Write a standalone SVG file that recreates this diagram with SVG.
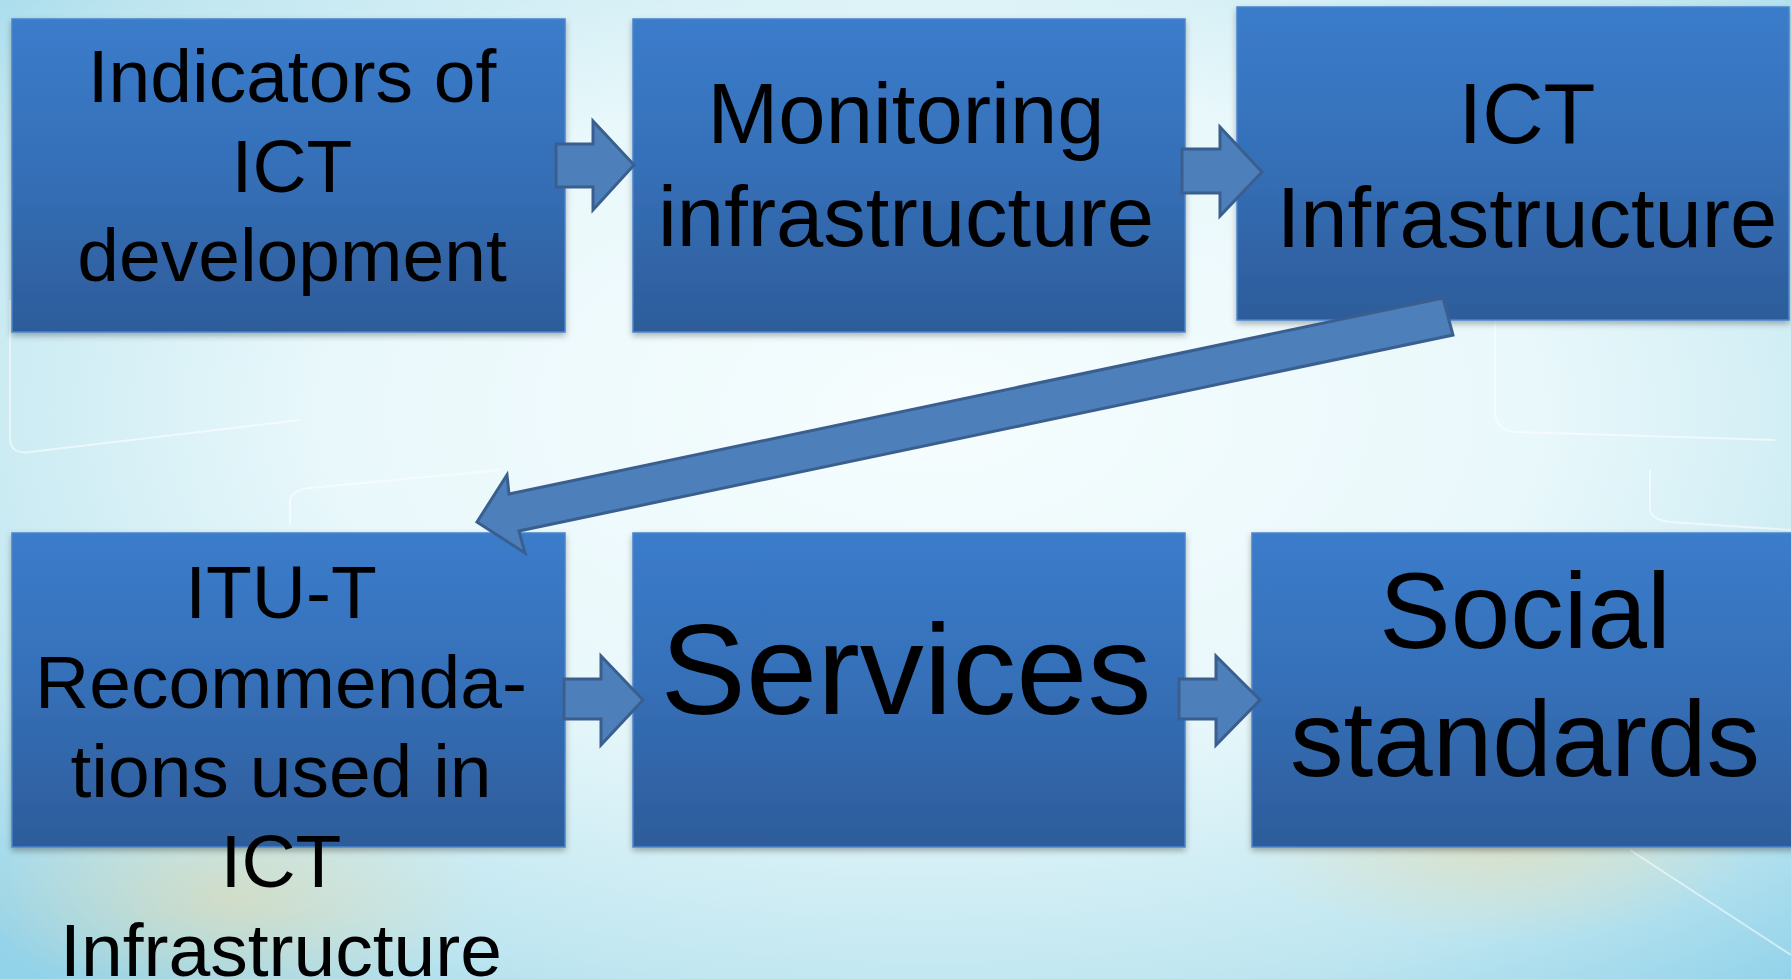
<svg xmlns="http://www.w3.org/2000/svg" width="1791" height="979" viewBox="0 0 1791 979">
  <defs>
    <radialGradient id="bg" cx="0.52" cy="0.42" r="0.75">
      <stop offset="0" stop-color="#f6fdfe"/>
      <stop offset="0.45" stop-color="#e9f8fb"/>
      <stop offset="0.8" stop-color="#bfe6f0"/>
      <stop offset="1" stop-color="#93d3ea"/>
    </radialGradient>
    <radialGradient id="warm" cx="0.5" cy="0.5" r="0.5">
      <stop offset="0" stop-color="#e8d9a8" stop-opacity="0.55"/>
      <stop offset="1" stop-color="#e8d9a8" stop-opacity="0"/>
    </radialGradient>
    <linearGradient id="boxFill" x1="0" y1="0" x2="0" y2="1">
      <stop offset="0" stop-color="#3b7ccb"/>
      <stop offset="0.5" stop-color="#356fb7"/>
      <stop offset="1" stop-color="#2d5c9a"/>
    </linearGradient>
    <filter id="shadow" x="-5%" y="-5%" width="110%" height="115%">
      <feDropShadow dx="0" dy="3" stdDeviation="3" flood-color="#000" flood-opacity="0.3"/>
    </filter>
    <style>
      .box { fill: url(#boxFill); stroke: #4a84cc; stroke-width: 1.5; filter: url(#shadow); }
      .lbl { font-family: "Liberation Sans", Arial, sans-serif; fill: #000; text-anchor: middle; }
      .arrow { fill: #4d7fbb; stroke: #3a5f8f; stroke-width: 3; stroke-linejoin: miter; }
      .deco { fill: none; stroke: #ffffff; stroke-opacity: 0.55; stroke-width: 2; }
    </style>
  </defs>

  <!-- backdrop -->
  <rect x="0" y="0" width="1791" height="979" fill="url(#bg)"/>
  <ellipse cx="230" cy="900" rx="260" ry="110" fill="url(#warm)"/>
  <ellipse cx="1500" cy="840" rx="260" ry="100" fill="url(#warm)"/>
  <g id="backdrop-lines">
    <path class="deco" d="M1495 300 L1495 410 Q1495 430 1515 432 L1775 440"/>
    <path class="deco" d="M1650 470 L1650 510 Q1652 520 1670 522 L1791 530"/>
    <path class="deco" d="M1630 850 L1791 955"/>
    <path class="deco" d="M10 300 L10 440 Q12 455 30 452 L300 420"/>
    <path class="deco" d="M290 525 L290 500 Q292 490 310 488 L500 470"/>
  </g>

  <!-- nodes -->
  <g id="node-indicators">
    <rect class="box" x="12" y="19" width="553" height="313"/>
    <text class="lbl" font-size="75" x="292"><tspan x="292" y="102">Indicators of</tspan><tspan x="292" y="192">ICT</tspan><tspan x="292" y="281">development</tspan></text>
  </g>
  <g id="node-monitoring">
    <rect class="box" x="633" y="19" width="552" height="313"/>
    <text class="lbl" font-size="85"><tspan x="906" y="143">Monitoring</tspan><tspan x="906" y="246">infrastructure</tspan></text>
  </g>
  <g id="node-ict-infrastructure">
    <rect class="box" x="1237" y="7" width="552" height="313"/>
    <text class="lbl" font-size="85"><tspan x="1527" y="143">ICT</tspan><tspan x="1527" y="247">Infrastructure</tspan></text>
  </g>
  <g id="node-itu-t">
    <rect class="box" x="12" y="533" width="553" height="314"/>
    <text class="lbl" font-size="75"><tspan x="281" y="618">ITU-T</tspan><tspan x="281" y="708">Recommenda-</tspan><tspan x="281" y="797">tions used in</tspan><tspan x="281" y="887">ICT</tspan><tspan x="281" y="976">Infrastructure</tspan></text>
  </g>
  <g id="node-services">
    <rect class="box" x="633" y="533" width="552" height="314"/>
    <text class="lbl" font-size="128" x="906" y="714">Services</text>
  </g>
  <g id="node-social">
    <rect class="box" x="1252" y="533" width="545" height="314"/>
    <text class="lbl" font-size="107"><tspan x="1525" y="648">Social</tspan><tspan x="1525" y="776">standards</tspan></text>
  </g>

  <!-- connectors -->
  <g id="connectors">
    <polygon class="arrow" points="556,144 593,144 593,121 634,165 593,210 593,187 556,187"/>
    <polygon class="arrow" points="1182,149 1220,149 1220,127 1262,172 1220,216 1220,193 1182,193"/>
    <polygon class="arrow" points="1443,298 1453,335 519,531 525,553 477,522 507,475 509,494"/>
    <polygon class="arrow" points="564,679 601,679 601,656 643,700 601,745 601,719 564,719"/>
    <polygon class="arrow" points="1179,679 1216,679 1216,656 1260,700 1216,745 1216,719 1179,719"/>
  </g>
</svg>
